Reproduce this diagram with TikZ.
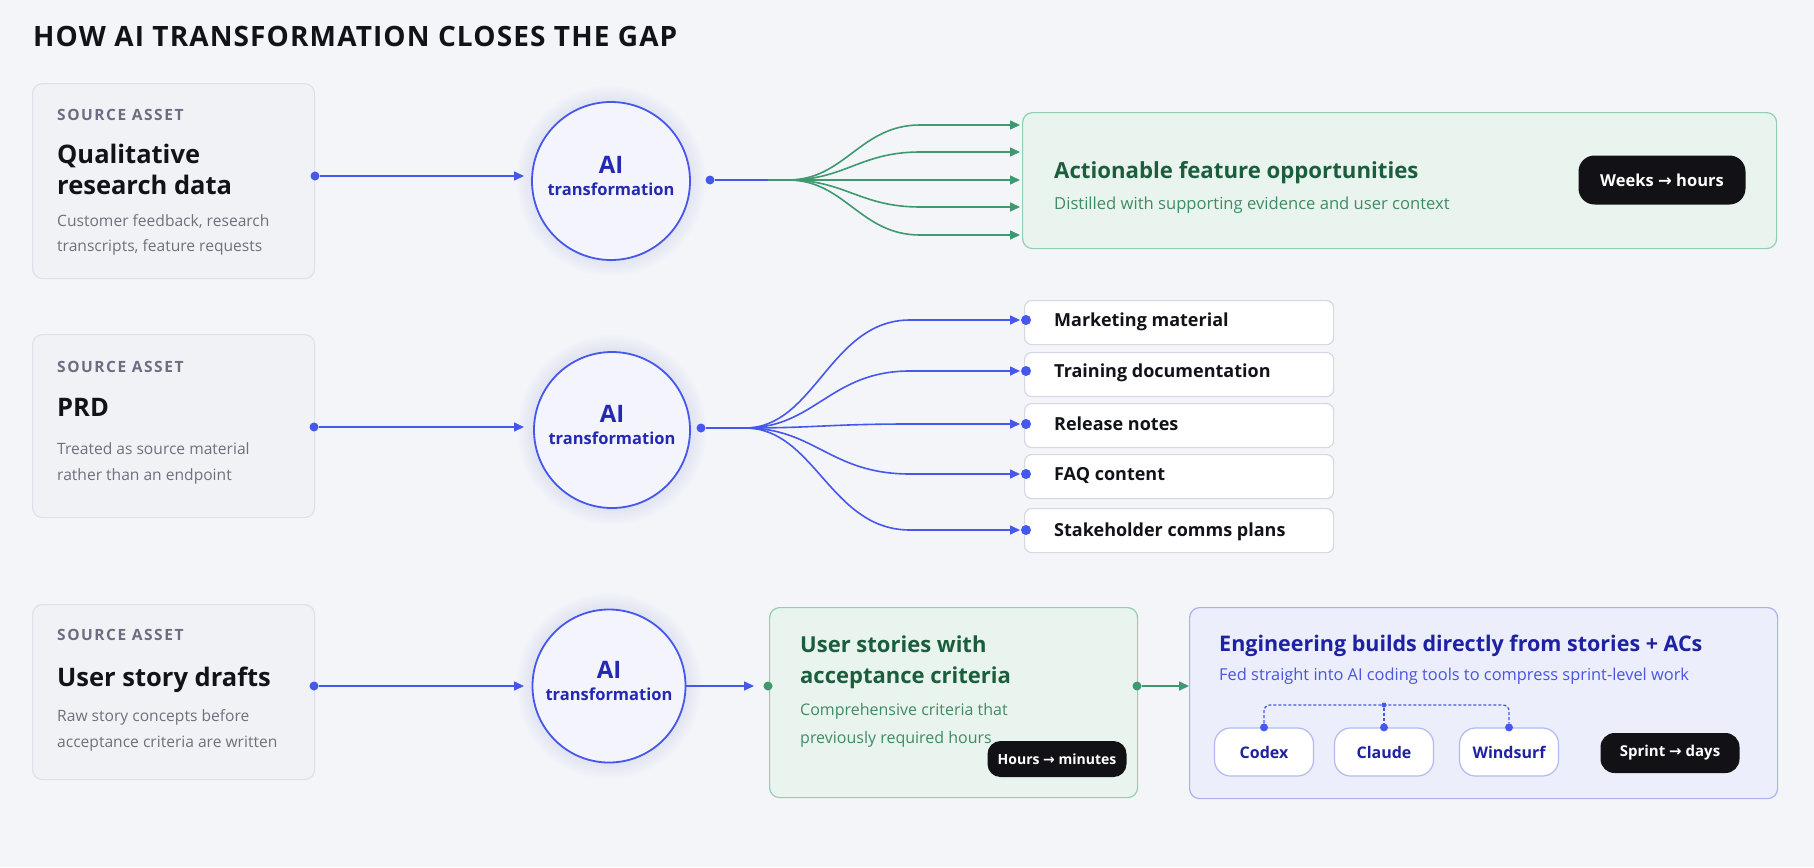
\documentclass[tikz,border=0pt]{standalone}
\usepackage{fontspec}
\setmainfont{Open Sans}
\newfontfamily\capsfont{Open Sans}[LetterSpace=10]
\newfontfamily\titlefont{Open Sans}[LetterSpace=4]
\newfontfamily\arrowfont{DejaVu Sans}
\usetikzlibrary{arrows.meta,calc}
\definecolor{bg}{HTML}{F4F5F9}
\definecolor{srcfill}{HTML}{F1F2F6}
\definecolor{srcline}{HTML}{DFE1EA}
\definecolor{aiblue}{HTML}{4657EC}
\definecolor{aitext}{HTML}{2329B0}
\definecolor{aifill}{HTML}{F4F5FC}
\definecolor{grayhead}{HTML}{6B6E80}
\definecolor{graytext}{HTML}{6E717D}
\definecolor{gline}{HTML}{3E9A6E}
\definecolor{gfill}{HTML}{EAF4EE}
\definecolor{gborder}{HTML}{92CFB0}
\definecolor{gtitle}{HTML}{1B5E3D}
\definecolor{gtext}{HTML}{3F8B65}
\definecolor{bfill}{HTML}{ECEEFB}
\definecolor{bborder}{HTML}{A9B1F3}
\definecolor{btitle}{HTML}{1E22A0}
\definecolor{btext}{HTML}{4A55E0}
\definecolor{itemborder}{HTML}{D5D8E4}
\definecolor{toolborder}{HTML}{B3BAF3}
\definecolor{badgefill}{HTML}{121216}
\definecolor{ink}{HTML}{111318}
\newcommand{\arr}{{\arrowfont\char"2192}}
\tikzset{
  srcbox/.style={draw=srcline, line width=1.2pt, fill=srcfill, rounded corners=10pt, inner sep=0pt, anchor=north west},
  itembox/.style={draw=itemborder, line width=1.2pt, fill=white, rounded corners=7pt, inner sep=0pt, anchor=north west, minimum width=309pt, minimum height=44pt},
  gbox/.style={draw=gborder, line width=1.2pt, fill=gfill, rounded corners=10pt, inner sep=0pt, anchor=north west},
  bbox/.style={draw=bborder, line width=1.2pt, fill=bfill, rounded corners=10pt, inner sep=0pt, anchor=north west},
  aicircle/.style={circle, draw=aiblue, line width=1.8pt, fill=aifill, inner sep=0pt},
  badge/.style={fill=badgefill, rounded corners=16pt, text=white, font=\bfseries, inner sep=0pt},
  toolpill/.style={draw=toolborder, line width=1.2pt, fill=white, rounded corners=16pt, inner sep=0pt, minimum width=99pt, minimum height=48pt, text=btitle, font=\fontsize{16}{18}\selectfont\bfseries},
  txt/.style={anchor=base west, inner sep=0pt},
  dotb/.style={circle, fill=aiblue, inner sep=0pt, minimum size=9pt},
  dotg/.style={circle, fill=gline, inner sep=0pt, minimum size=9pt},
  bline/.style={draw=aiblue, line width=1.6pt},
  gln/.style={draw=gline, line width=1.6pt},
  barrow/.style={bline, -{Triangle[length=10pt,width=9pt]}},
  garrow/.style={gln, -{Triangle[length=10pt,width=9pt]}},
  headf/.style={font=\fontsize{15.5}{17}\selectfont\capsfont\bfseries, text=grayhead},
  bigf/.style={font=\fontsize{25.5}{28}\selectfont\bfseries, text=ink},
  descf/.style={font=\fontsize{15.6}{18}\selectfont, text=graytext},
  aif/.style={font=\fontsize{24}{26}\selectfont\bfseries, text=aitext, inner sep=0pt, anchor=base},
  trf/.style={font=\fontsize{16.5}{18}\selectfont\bfseries, text=aitext, inner sep=0pt, anchor=base},
}
\begin{document}
\begin{tikzpicture}[x=1pt,y=-1pt]
\useasboundingbox (0,0) rectangle (1814,867);
\fill[bg] (0,0) rectangle (1814,867);

% title
\node[txt, text=ink, font=\fontsize{28}{30}\selectfont\titlefont\bfseries] (title) at (33,47) {HOW AI TRANSFORMATION CLOSES THE GAP};

% glow of circles
\foreach \cx/\cy/\r in {611/181/79, 612/430/79, 609/686/77}{
  \foreach \k in {1,...,8}{
    \fill[aiblue, opacity=0.013] (\cx,\cy) circle ({\r+2*\k});
  }
}

% ===== Row 1 =====
\node[srcbox, minimum width=282pt, minimum height=195pt] (s1) at (32,83) {};
\node[txt, headf] (s1h) at (57,120) {SOURCE ASSET};
\node[txt, bigf] (s1t1) at (57,163) {Qualitative};
\node[txt, bigf] (s1t2) at (57,194) {research data};
\node[txt, descf] (s1d1) at (57,226) {Customer feedback, research};
\node[txt, descf] (s1d2) at (57,251) {transcripts, feature requests};

\node[aicircle, minimum size=158pt] (c1) at (611,181) {};
\node[aif] (c1a) at (611,173) {AI};
\node[trf] (c1b) at (611,195) {transformation};

\node[dotb] (d1a) at (315,176) {};
\coordinate (e1) at (524,176);
\draw[barrow] (d1a) -- (e1);
\node[dotb] (d1b) at (710,180) {};
\coordinate (f1) at (788,180);
\coordinate (f1m) at (768,180);
\draw[bline] (d1b) -- (f1m);
\draw[gln] (f1m) -- (f1);

\node[gbox, minimum width=754pt, minimum height=136pt] (g1) at (1022,112) {};
\foreach \i/\y in {1/125,2/152,3/180,4/207,5/235}{
  \coordinate (t1\i) at (1020,\y);
  \draw[garrow] (f1) .. controls (845,180) and (860,\y) .. (920,\y) -- (t1\i);
}
\node[txt, text=gtitle, font=\fontsize{22.2}{24}\selectfont\bfseries] (g1t) at (1054,178) {Actionable feature opportunities};
\node[txt, text=gtext, font=\fontsize{16.6}{18}\selectfont] (g1d) at (1054,209) {Distilled with supporting evidence and user context};
\node[badge, minimum width=167pt, minimum height=49pt, font=\fontsize{16.5}{18}\selectfont\bfseries] (b1) at (1662,180) {Weeks \arr{} hours};

% ===== Row 2 =====
\node[srcbox, minimum width=282pt, minimum height=183pt] (s2) at (32,334) {};
\node[txt, headf] (s2h) at (57,372) {SOURCE ASSET};
\node[txt, bigf] (s2t) at (57,416) {PRD};
\node[txt, descf] (s2d1) at (57,454) {Treated as source material};
\node[txt, descf] (s2d2) at (57,480) {rather than an endpoint};

\node[aicircle, minimum size=156pt] (c2) at (612,430) {};
\node[aif] (c2a) at (612,422) {AI};
\node[trf] (c2b) at (612,444) {transformation};

\node[dotb] (d2a) at (314,427) {};
\coordinate (e2) at (524,427);
\draw[barrow] (d2a) -- (e2);
\node[dotb] (d2b) at (701,428) {};
\coordinate (f2) at (745,428);
\draw[bline] (d2b) -- (f2);

\foreach \i/\yt/\y/\lab in {1/300/320/Marketing material, 2/352/371/Training documentation, 3/403/424/Release notes, 4/454/474/FAQ content, 5/508/530/Stakeholder comms plans}{
  \node[itembox] (it\i) at (1024,\yt) {};
  \node[dotb, minimum size=10pt] (id\i) at (1026,\y) {};
  \coordinate (t2\i) at (1020,\y);
  \draw[barrow] (f2) .. controls (815,428) and (830,\y) .. (910,\y) -- (t2\i);
  \node[txt, text=ink, font=\fontsize{18}{20}\selectfont\bfseries] (il\i) at (1054,\y+6) {\lab};
}

% ===== Row 3 =====
\node[srcbox, minimum width=282pt, minimum height=175pt] (s3) at (32,604) {};
\node[txt, headf] (s3h) at (57,640) {SOURCE ASSET};
\node[txt, bigf] (s3t) at (57,686) {User story drafts};
\node[txt, descf] (s3d1) at (57,721) {Raw story concepts before};
\node[txt, descf] (s3d2) at (57,747) {acceptance criteria are written};

\node[aicircle, minimum size=153pt] (c3) at (609,686) {};
\node[aif] (c3a) at (609,678) {AI};
\node[trf] (c3b) at (609,700) {transformation};

\node[dotb] (d3a) at (314,686) {};
\coordinate (e3) at (524,686);
\draw[barrow] (d3a) -- (e3);

\node[gbox, minimum width=368pt, minimum height=190pt] (g3) at (769,607) {};
\node[dotg] (g3l) at (768,686) {};
\node[dotg] (g3r) at (1137,686) {};
\coordinate (a3) at (754,686);
\draw[barrow] (c3.east) -- (a3);
\node[txt, text=gtitle, font=\fontsize{22}{24}\selectfont\bfseries] (g3t1) at (800,652) {User stories with};
\node[txt, text=gtitle, font=\fontsize{22}{24}\selectfont\bfseries] (g3t2) at (800,683) {acceptance criteria};
\node[txt, text=gtext, font=\fontsize{16}{18}\selectfont] (g3d1) at (800,715) {Comprehensive criteria that};
\node[txt, text=gtext, font=\fontsize{16}{18}\selectfont] (g3d2) at (800,743) {previously required hours};
\node[badge, minimum width=139pt, minimum height=36pt, rounded corners=13pt, font=\fontsize{14}{16}\selectfont\bfseries] (b3) at (1057,759) {Hours \arr{} minutes};

\node[bbox, minimum width=588pt, minimum height=191pt] (e3box) at (1189,607) {};
\draw[garrow] (g3r) -- (e3box.west |- g3r);
\node[txt, text=btitle, font=\fontsize{21.5}{24}\selectfont\bfseries] (e3t) at (1219,651) {Engineering builds directly from stories + ACs};
\node[txt, text=btext, font=\fontsize{16.4}{18}\selectfont] (e3d) at (1219,680) {Fed straight into AI coding tools to compress sprint-level work};

\node[toolpill] (p1) at (1264,752) {Codex};
\node[toolpill] (p2) at (1384,752) {Claude};
\node[toolpill] (p3) at (1509,752) {Windsurf};
\node[dotb, minimum size=8pt] (pd1) at (p1.north) {};
\node[dotb, minimum size=8pt] (pd2) at (p2.north) {};
\node[dotb, minimum size=8pt] (pd3) at (p3.north) {};
\node[dotb, minimum size=5pt] (hub) at (1384,705) {};
\draw[aiblue, line width=1.3pt, dash pattern=on 3pt off 2pt, rounded corners=6pt] (pd1) -- (p1.north |- hub) -- (p3.north |- hub) -- (pd3);
\draw[aiblue, line width=1.3pt, dash pattern=on 3pt off 2pt] (hub) -- (pd2);
\node[badge, minimum width=139pt, minimum height=40pt, rounded corners=14pt, font=\fontsize{15}{17}\selectfont\bfseries] (b4) at (1670,753) {Sprint \arr{} days};
\end{tikzpicture}
\end{document}
